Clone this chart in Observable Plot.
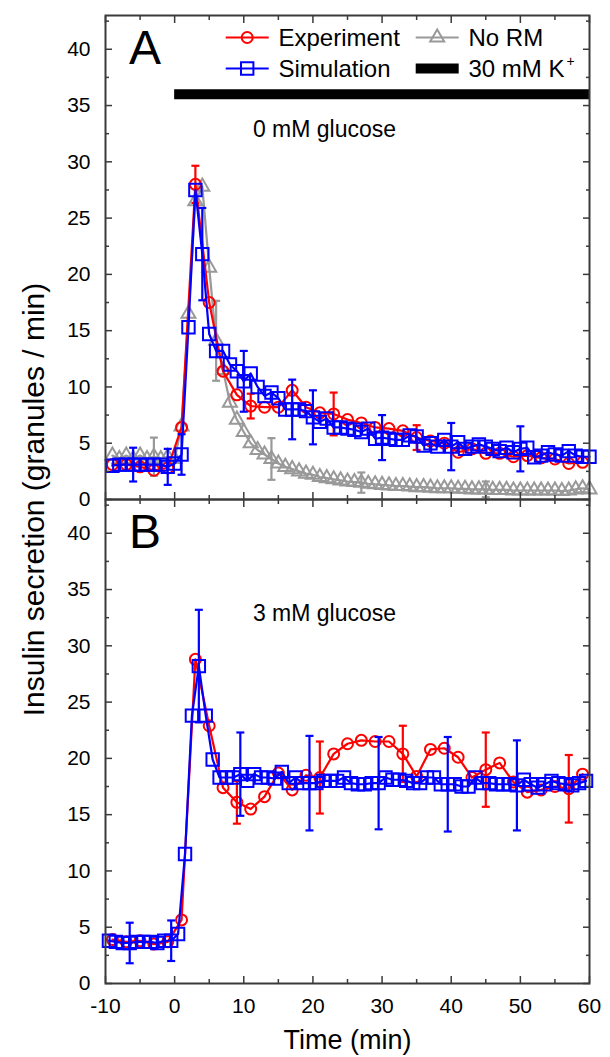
<!DOCTYPE html>
<html><head><meta charset="utf-8">
<script src="https://cdn.jsdelivr.net/npm/d3@7"></script>
<script src="https://cdn.jsdelivr.net/npm/@observablehq/plot@0.6"></script>
<style>
body{margin:0;background:#fff;}
#chart{width:610px;height:1057px;}
</style>
</head><body><div id="chart"></div>
<script>
// ---------- DATA ----------
// Experiment sampled every 2 min (odd minutes)
const expTimes = [-9,-7,-5,-3,-1,1,3,5,7,9,11,13,15,17,19,21,23,25,27,29,31,33,35,37,39,41,43,45,47,49,51,53,55,57,59];
const expA = [3.1,3.1,2.9,2.6,2.8,6.4,28.0,17.5,11.4,9.3,8.3,8.2,8.2,9.7,8.2,7.7,7.6,7.1,6.8,6.4,6.3,6.1,5.5,5.2,5.0,4.2,4.5,4.1,4.1,3.8,3.9,3.7,3.6,3.2,3.3];
const expB = [3.9,3.7,3.8,3.5,3.7,5.65,28.8,22.9,17.4,16.1,15.5,16.6,18.7,17.2,18.5,18.3,20.4,21.3,21.6,21.5,21.5,20.4,18.4,20.8,20.9,20.1,18.3,19.0,19.6,17.9,17.0,17.2,17.5,17.3,18.6];

// Simulation / No RM, panel A (1-min)
const simTimesA = [-9,-8,-7,-6,-5,-4,-3,-2,-1,0,1,2,3,4,5,6,7,8,9,10,11,12,13,14,15,16,17,18,19,20,21,22,23,24,25,26,27,28,29,30,31,32,33,34,35,36,37,38,39,40,41,42,43,44,45,46,47,48,49,50,51,52,53,54,55,56,57,58,59,60];
const simA = [3.0,3.1,3.1,3.1,3.1,3.1,3.1,3.1,2.9,3.2,
  4.0,15.3,27.5,21.8,14.7,13.2,13.2,12.0,11.4,10.5,
  11.2,10.0,9.2,9.5,9.0,8.0,8.0,8.0,7.85,7.3,
  6.9,7.2,6.4,6.4,6.3,6.2,6.0,6.3,5.4,5.5,
  5.4,5.3,5.3,5.7,5.6,4.8,5.0,4.7,5.3,4.7,
  5.1,4.5,4.7,4.9,4.7,4.5,4.3,4.6,4.2,4.5,
  4.6,3.75,3.9,4.2,4.0,3.9,4.3,3.9,3.8,3.8];
const noRmA = [3.9,3.6,3.9,3.6,3.9,3.6,3.8,3.6,3.8,3.6,
  6.5,16.5,26.5,27.8,20.6,14.1,11.5,8.6,7.1,6.0,
  5.0,4.4,4.0,3.6,3.2,2.9,2.7,2.5,2.3,2.2,
  2.0,1.9,1.8,1.7,1.6,1.55,1.5,1.4,1.35,1.3,
  1.25,1.2,1.2,1.15,1.1,1.1,1.05,1.0,1.0,1.0,
  0.95,0.95,0.9,0.9,0.9,0.85,0.85,0.85,0.8,0.8,
  0.8,0.8,0.8,0.8,0.8,0.75,0.8,0.9,1.0,0.9];

// Simulation, panel B (half-minute times)
const simTimesB = [-9.5,-8.5,-7.5,-6.5,-5.5,-4.5,-3.5,-2.5,-1.5,-0.5,0.5,1.5,2.5,3.5,4.5,5.5,6.5,7.5,8.5,9.5,10.5,11.5,12.5,13.5,14.5,15.5,16.5,17.5,18.5,19.5,20.5,21.5,22.5,23.5,24.5,25.5,26.5,27.5,28.5,29.5,30.5,31.5,32.5,33.5,34.5,35.5,36.5,37.5,38.5,39.5,40.5,41.5,42.5,43.5,44.5,45.5,46.5,47.5,48.5,49.5,50.5,51.5,52.5,53.5,54.5,55.5,56.5,57.5,58.5,59.5];
const simB = [3.8,3.7,3.6,3.6,3.7,3.7,3.7,3.6,3.8,3.8,
  4.4,11.5,23.8,28.2,23.8,19.9,18.3,18.3,18.3,18.6,
  18.0,18.6,18.3,18.3,18.2,18.8,17.8,18.3,17.8,17.8,
  17.8,18.0,18.0,18.0,18.3,17.8,17.7,17.7,17.8,17.8,
  18.3,18.1,18.1,18.0,17.8,17.8,18.3,18.3,17.7,17.7,
  17.7,17.5,17.5,18.3,17.8,17.8,17.7,17.7,17.7,17.6,
  18.1,17.7,17.4,17.7,18.0,17.8,17.7,17.6,17.8,18.0];

// Error bars (half-widths)
const errTimesExpA = [3,11,23,35];          const errExpA = [1.65,1.1,1.9,1.1];
const errTimesSimA = [-6,-1,1,4,10,17,20,30,40,50]; const errSimA = [1.5,1.6,1.8,4.1,2.7,2.65,2.4,2.0,2.1,2.0];
const errTimesNoRmA = [-3,6,14,27,45];      const errNoRmA = [1.7,3.55,1.85,0.9,0.7];
const errTimesExpB = [9,21,33,45,57];       const errExpB = [1.9,3.2,2.5,3.3,3.0];
const errTimesSimB = [-6.5,-0.5,3.5,9.5,19.5,29.5,39.5,49.5]; const errSimB = [1.8,1.8,5.0,3.7,4.2,4.1,4.2,4.0];

// 30 mM K+ stimulus period
const stimStart = 0, stimEnd = 60, stimLevel = 36;

// Axes
const xTicks = [-10,0,10,20,30,40,50,60];
const xMinorTicks = [-5,5,15,25,35,45,55];
const yTicks = [0,5,10,15,20,25,30,35,40];
const yMinorTicks = [2.5,7.5,12.5,17.5,22.5,27.5,32.5,37.5,42.5];
const panels = ["A","B"];
const panelNotes = ["0 mM glucose","3 mM glucose"];
const legendLabels = ["Experiment","Simulation","No RM","30 mM K"];
const xTitle = "Time (min)";
const yTitle = "Insulin secretion (granules / min)";

// ---------- BUILD ----------
const FONT = "'Liberation Sans', Arial, Helvetica, sans-serif";
const RED = "#ff0000", BLUE = "#0000ff", GREY = "#999999", FRAME = "#3a3a3a";

const series = (times, values, panel) => times.map((t, i) => ({t, v: values[i], panel}));
const errs = (times, halves, srcT, srcV, panel) => times.map((t, i) => {
  const v = srcV[srcT.indexOf(t)];
  return {t, lo: v - halves[i], hi: v + halves[i], panel};
});

const capSymbol = {draw(ctx, size) { const w = Math.sqrt(size / Math.PI); ctx.moveTo(-w, 0); ctx.lineTo(w, 0); }};

function seriesMarks(data, e, color, symbol, r) {
  return [
    Plot.ruleX(e, {x: "t", y1: "lo", y2: "hi", fy: "panel", stroke: color, strokeWidth: 2.2}),
    Plot.dot(e, {x: "t", y: "lo", fy: "panel", symbol: capSymbol, r: 4, stroke: color, strokeWidth: 2.2}),
    Plot.dot(e, {x: "t", y: "hi", fy: "panel", symbol: capSymbol, r: 4, stroke: color, strokeWidth: 2.2}),
    Plot.line(data, {x: "t", y: "v", fy: "panel", stroke: color, strokeWidth: 2.2}),
    Plot.dot(data, {x: "t", y: "v", fy: "panel", symbol, r, stroke: color, strokeWidth: 2, fill: "none"})
  ];
}

const dataExpA = series(expTimes, expA, "A");
const dataSimA = series(simTimesA, simA, "A");
const dataNoRmA = series(simTimesA, noRmA, "A");
const dataExpB = series(expTimes, expB, "B");
const dataSimB = series(simTimesB, simB, "B");

const stim = [{start: stimStart, end: stimEnd, level: stimLevel, panel: "A"}];
const A = [{panel: "A"}];
const B = [{panel: "B"}];

const legendItems = [
  {label: legendLabels[0], color: RED, symbol: "circle", r: 5.5, col: 0, row: 0},
  {label: legendLabels[1], color: BLUE, symbol: "square", r: 7, col: 0, row: 1},
  {label: legendLabels[2], color: GREY, symbol: "triangle", r: 5.2, col: 1, row: 0},
  {label: legendLabels[3], color: "black", symbol: null, r: 0, col: 1, row: 1}
];
const legendMarks = legendItems.flatMap(it => {
  const sx = it.col ? 331.7 : 141.7, tx = it.col ? 363 : 173, dy = it.row ? 53 : 22;
  const m = [];
  m.push(Plot.dot(A, {fy: "panel", frameAnchor: "top-left", dx: sx, dy, symbol: capSymbol, r: 21.5,
    stroke: it.color, strokeWidth: it.symbol ? 2.2 : 10}));
  if (it.symbol) m.push(Plot.dot(A, {fy: "panel", frameAnchor: "top-left", dx: sx, dy, symbol: it.symbol, r: it.r,
    stroke: it.color, strokeWidth: 2, fill: "none"}));
  m.push(Plot.text(A, {fy: "panel", frameAnchor: "top-left", dx: tx, dy: dy + 1, text: () => it.label,
    textAnchor: "start", lineAnchor: "middle", fontSize: 24, fill: "black"}));
  return m;
});
legendMarks.push(Plot.text(A, {fy: "panel", frameAnchor: "top-left", dx: 465, dy: 46, text: () => "+",
  textAnchor: "middle", lineAnchor: "middle", fontSize: 14, fill: "black"}));

const chart = Plot.plot({
  width: 610, height: 1057,
  marginLeft: 105, marginRight: 21, marginTop: 14, marginBottom: 74,
  x: {domain: [-10, 60]},
  y: {domain: [0, 43]},
  fy: {domain: panels, padding: 0, axis: null},
  style: {fontFamily: FONT, color: "black", background: "white", overflow: "visible"},
  marks: [
    Plot.ruleY(stim, {y: "level", x1: "start", x2: "end", fy: "panel", stroke: "black", strokeWidth: 10}),
    ...seriesMarks(dataNoRmA, errs(errTimesNoRmA, errNoRmA, simTimesA, noRmA, "A"), GREY, "triangle", 5.2),
    ...seriesMarks(dataExpA, errs(errTimesExpA, errExpA, expTimes, expA, "A"), RED, "circle", 5.5),
    ...seriesMarks(dataSimA, errs(errTimesSimA, errSimA, simTimesA, simA, "A"), BLUE, "square", 7),
    ...seriesMarks(dataExpB, errs(errTimesExpB, errExpB, expTimes, expB, "B"), RED, "circle", 5.5),
    ...seriesMarks(dataSimB, errs(errTimesSimB, errSimB, simTimesB, simB, "B"), BLUE, "square", 7),
    // axes: inward ticks on all four sides
    Plot.axisY({anchor: "left", ticks: yTicks, tickSize: -7, text: null, label: null, stroke: FRAME, strokeWidth: 1.5}),
    Plot.axisY({anchor: "left", ticks: yMinorTicks, tickSize: -4, text: null, label: null, stroke: FRAME, strokeWidth: 1.5}),
    Plot.axisY({anchor: "right", ticks: yTicks, tickSize: -7, text: null, label: null, stroke: FRAME, strokeWidth: 1.5}),
    Plot.axisY({anchor: "right", ticks: yMinorTicks, tickSize: -4, text: null, label: null, stroke: FRAME, strokeWidth: 1.5}),
    Plot.axisY({anchor: "left", ticks: yTicks, tickSize: 0, tickPadding: 15, label: null, fontSize: 21, tickFormat: d => String(d)}),
    Plot.axisX({anchor: "bottom", ticks: xTicks, tickSize: -7, text: null, label: null, stroke: FRAME, strokeWidth: 1.5, facetAnchor: null}),
    Plot.axisX({anchor: "bottom", ticks: xMinorTicks, tickSize: -4, text: null, label: null, stroke: FRAME, strokeWidth: 1.5, facetAnchor: null}),
    Plot.axisX({anchor: "top", ticks: xTicks, tickSize: -7, text: null, label: null, stroke: FRAME, strokeWidth: 1.5, facetAnchor: null}),
    Plot.axisX({anchor: "top", ticks: xMinorTicks, tickSize: -4, text: null, label: null, stroke: FRAME, strokeWidth: 1.5, facetAnchor: null}),
    Plot.axisX({anchor: "bottom", ticks: xTicks, tickSize: 0, tickPadding: 15, label: null, fontSize: 21, tickFormat: d => String(d)}),
    Plot.frame({stroke: FRAME, strokeWidth: 2}),
    // panel letters and conditions
    Plot.text(panels.map(p => ({panel: p})), {fy: "panel", frameAnchor: "top-left", dx: 39.5, dy: 14, text: "panel",
      textAnchor: "middle", lineAnchor: "top", fontSize: 48, fill: "black"}),
    Plot.text(panels.map((p, i) => ({panel: p, note: panelNotes[i]})), {fy: "panel", frameAnchor: "top-left", dx: 219, dy: 105,
      text: "note", textAnchor: "middle", lineAnchor: "top", fontSize: 23, fill: "black"}),
    ...legendMarks,
    // axis titles
    Plot.text(A, {fy: "panel", frameAnchor: "bottom-left", dx: -71, dy: 0, rotate: -90, text: () => yTitle,
      textAnchor: "middle", lineAnchor: "middle", fontSize: 30, fill: "black"}),
    Plot.text(B, {fy: "panel", frameAnchor: "bottom", dy: 46, text: () => xTitle,
      textAnchor: "middle", lineAnchor: "top", fontSize: 27, fill: "black"})
  ]
});
document.getElementById("chart").appendChild(chart);
</script>
</body></html>
